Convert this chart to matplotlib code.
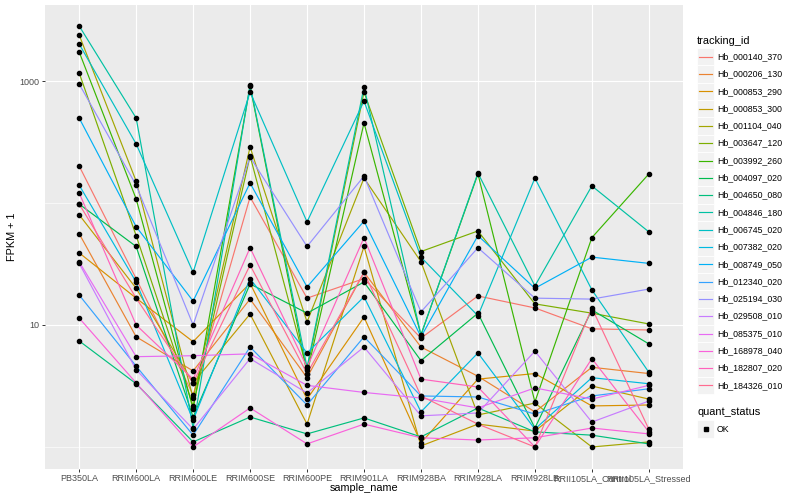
import matplotlib
matplotlib.use("Agg")
import matplotlib.pyplot as plt
from matplotlib.patches import Rectangle
from matplotlib.ticker import FixedLocator, NullFormatter
import numpy as np

plt.rcParams['font.family'] = ['Liberation Sans', 'DejaVu Sans']

samples = ["PB350LA", "RRIM600LA", "RRIM600LE", "RRIM600SE", "RRIM600PE",
           "RRIM901LA", "RRIM928BA", "RRIM928LA", "RRIM928LB",
           "RRII105LA_Control", "RRII105LA_Stressed"]

tracking_ids = ["Hb_000140_370", "Hb_000206_130", "Hb_000853_290", "Hb_000853_300",
                "Hb_001104_040", "Hb_003647_120", "Hb_003992_260", "Hb_004097_020",
                "Hb_004650_080", "Hb_004846_180", "Hb_006745_020", "Hb_007382_020",
                "Hb_008749_050", "Hb_012340_020", "Hb_025194_030", "Hb_029508_010",
                "Hb_085375_010", "Hb_168978_040", "Hb_182807_020", "Hb_184326_010"]

colors = ["#F8766D", "#EA8331", "#D89000", "#C09B00", "#A3A500", "#7CAE00",
          "#39B600", "#00BB4E", "#00BF7D", "#00C1A3", "#00BFC4", "#00BAE0",
          "#00B0F6", "#35A2FF", "#9590FF", "#C77CFF", "#E76BF3", "#FA62DB",
          "#FF62BC", "#FF6C90"]

# FPKM + 1 per sample (order of `samples`)
hb_000140_370 = [201, 24, 2.67, 112, 16.6, 24, 7.8, 17.3, 13.8, 9.3, 9.1]
hb_000206_130 = [56, 8.0, 4.2, 16.3, 3.7, 27, 6.6, 3.8, 1.94, 4.5, 4.0]
hb_000853_290 = [39, 16.6, 7.3, 22, 2.47, 11.6, 1.08, 3.6, 4.0, 2.17, 2.21]
hb_000853_300 = [80, 20, 3.35, 12.3, 1.54, 44, 1.02, 1.54, 1.35, 3.16, 2.47]
hb_001104_040 = [2383, 151, 2.52, 288, 10.6, 160, 33, 1.83, 2.29, 1.0, 1.10]
hb_003647_120 = [1164, 54, 2.17, 243, 4.3, 812, 40, 59, 14.9, 12.5, 10.2]
hb_003992_260 = [1729, 108, 2.05, 910, 4.0, 453, 8.3, 173, 2.34, 52, 173]
hb_004097_020 = [98, 44, 1.76, 21.7, 12.5, 22.5, 5.1, 12.5, 1.43, 13.3, 7.0]
hb_004650_080 = [7.4, 3.3, 1.10, 1.76, 1.28, 1.73, 1.21, 2.09, 1.33, 1.25, 1.06]
hb_004846_180 = [2825, 497, 1.43, 927, 4.5, 893, 8.3, 176, 20.9, 138, 58]
hb_006745_020 = [2011, 305, 27, 812, 70, 685, 36, 11.9, 160, 19.4, 4.1]
hb_007382_020 = [140, 22.5, 1.66, 24, 5.9, 17, 1.94, 5.9, 1.40, 3.7, 3.3]
hb_008749_050 = [497, 64, 15.7, 146, 20.5, 71, 8.0, 54, 20, 36, 32]
hb_012340_020 = [17.6, 4.6, 1.25, 6.6, 2.21, 8.0, 2.62, 2.57, 1.86, 2.62, 3.0]
hb_025194_030 = [945, 140, 10, 238, 44, 166, 12.8, 43, 16.6, 16.3, 19.7]
hb_029508_010 = [32, 4.3, 1.40, 5.3, 2.77, 6.6, 1.80, 1.90, 6.1, 1.60, 2.38]
hb_085375_010 = [33, 5.5, 5.6, 5.8, 3.2, 2.8, 2.52, 2.09, 3.05, 2.47, 3.2]
hb_168978_040 = [11.4, 3.35, 1.0, 2.09, 1.06, 1.54, 1.19, 1.14, 1.19, 1.43, 1.28]
hb_182807_020 = [121, 10, 3.6, 43, 4.5, 52, 3.6, 3.1, 1.0, 5.3, 1.33]
hb_184326_010 = [98, 16.6, 3.35, 31, 4.0, 27, 2.62, 1.54, 1.0, 13.8, 1.40]

series = [hb_000140_370, hb_000206_130, hb_000853_290, hb_000853_300, hb_001104_040,
          hb_003647_120, hb_003992_260, hb_004097_020, hb_004650_080, hb_004846_180,
          hb_006745_020, hb_007382_020, hb_008749_050, hb_012340_020, hb_025194_030,
          hb_029508_010, hb_085375_010, hb_168978_040, hb_182807_020, hb_184326_010]

W, H = 800, 500
fig = plt.figure(figsize=(8, 5), dpi=100)

# pixel-space overlay for legend and titles
lax = fig.add_axes([0, 0, 1, 1])
lax.set_xlim(0, W)
lax.set_ylim(H, 0)
lax.axis('off')

ax = fig.add_axes([45 / W, 1 - 469 / H, (683 - 45) / W, (469 - 5) / H])
ax.set_facecolor('#EBEBEB')
x = np.arange(len(samples))
for vals, c in zip(series, colors):
    ax.plot(x, vals, color=c, lw=0.85, zorder=2, solid_capstyle='butt')
for vals in series:
    ax.plot(x, vals, 'o', color='black', ms=3.0, zorder=3, ls='none')

ax.set_yscale('log')
ax.set_ylim(0.66, 4198)
ax.set_xlim(-0.6, len(samples) - 0.4)
ax.set_xticks(x)
ax.set_xticklabels(samples)
ax.yaxis.set_major_locator(FixedLocator([10, 1000]))
ax.set_yticklabels(['10', '1000'])
ax.yaxis.set_minor_locator(FixedLocator([1, 100]))
ax.yaxis.set_minor_formatter(NullFormatter())
ax.grid(which='major', color='white', lw=0.85)
ax.grid(which='minor', axis='y', color='white', lw=0.45)
ax.set_axisbelow(True)
for s in ax.spines.values():
    s.set_visible(False)
ax.tick_params(which='major', length=2.2, width=0.7, color='#333333',
               labelsize=6.5, labelcolor='#4D4D4D', pad=1.6)
ax.tick_params(which='minor', length=0)

fig.text(364 / W, 1 - 488 / H, 'sample_name', ha='center', va='center', fontsize=7.8)
fig.text(12 / W, 1 - 237 / H, 'FPKM + 1', ha='center', va='center', fontsize=7.8,
         rotation=90)

# legend: tracking_id
lx = 697
lax.text(lx, 40.7, 'tracking_id', ha='left', va='center', fontsize=7.9)
key = 17.3
for i, (tid, c) in enumerate(zip(tracking_ids, colors)):
    yc = 56.7 + i * key
    lax.add_patch(Rectangle((lx, yc - key / 2), key, key, fc='#F2F2F2',
                            ec='white', lw=0.6))
    lax.plot([lx + 2, lx + key - 2], [yc, yc], color=c, lw=0.85)
    lax.text(lx + 20, yc, tid, ha='left', va='center', fontsize=6.3)

# legend: quant_status
lax.text(lx, 412.3, 'quant_status', ha='left', va='center', fontsize=7.9)
yc = 429
lax.add_patch(Rectangle((lx, yc - key / 2), key, key, fc='#F2F2F2', ec='white', lw=0.6))
lax.plot([lx + key / 2], [yc], 's', color='black', ms=2.4)
lax.text(lx + 20, yc, 'OK', ha='left', va='center', fontsize=6.3)

fig.savefig('out.png', dpi=100)
